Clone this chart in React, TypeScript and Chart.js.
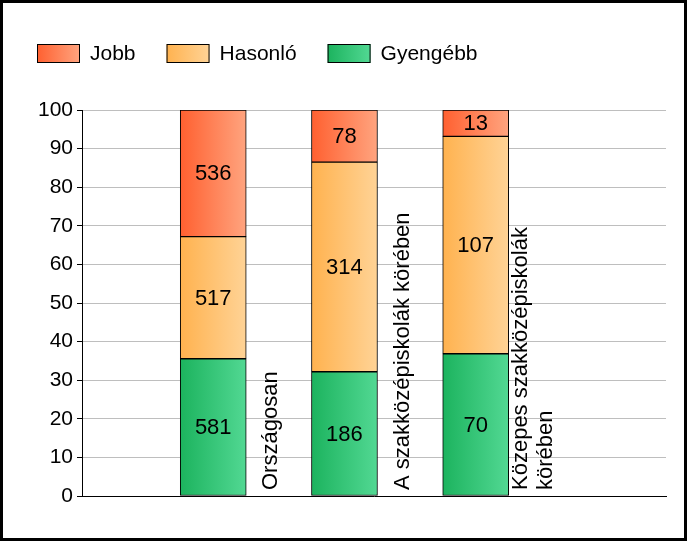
import React, { useEffect, useRef } from 'react';
import { Chart, registerables } from 'chart.js';

Chart.register(...registerables);

// ---- data ----
const categories: string[][] = [
  ['Országosan'],
  ['A szakközépiskolák körében'],
  ['Közepes szakközépiskolák', 'körében'],
];
const gyengebb = [581, 186, 70];
const hasonlo = [517, 314, 107];
const jobb = [536, 78, 13];
const seriesNames = ['Gyengébb', 'Hasonló', 'Jobb'];
const legendOrder = ['Jobb', 'Hasonló', 'Gyengébb'];
const yMin = 0;
const yMax = 100;
const yStep = 10;

// ---- styles ----
const FAMILY = 'Arial, "Liberation Sans", sans-serif';
const FONT_SIZE = 21;
const LABEL_SIZE = 22;
const gradients: Record<string, [string, string]> = {
  Jobb: ['#FF6030', '#FFA47F'],
  'Hasonló': ['#FFB24F', '#FFD396'],
  'Gyengébb': ['#1CB35E', '#52D893'],
};
const BAR_W = 66;

const counts = [gyengebb, hasonlo, jobb];
const totals = gyengebb.map((_, i) => gyengebb[i] + hasonlo[i] + jobb[i]);

function makeGrad(ctx: CanvasRenderingContext2D, x0: number, x1: number, name: string) {
  const g = ctx.createLinearGradient(x0, 0, x1, 0);
  g.addColorStop(0, gradients[name][0]);
  g.addColorStop(1, gradients[name][1]);
  return g;
}

const decor = {
  id: 'decor',
  beforeDraw(chart: any) {
    const ctx = chart.ctx;
    ctx.save();
    ctx.fillStyle = '#ffffff';
    ctx.fillRect(0, 0, chart.width, chart.height);
    ctx.restore();
  },
  afterDatasetsDraw(chart: any) {
    const ctx: CanvasRenderingContext2D = chart.ctx;
    ctx.save();
    ctx.font = `${LABEL_SIZE}px ${FAMILY}`;
    ctx.fillStyle = '#000';
    ctx.textAlign = 'center';
    ctx.textBaseline = 'middle';
    chart.data.datasets.forEach((ds: any, d: number) => {
      const meta = chart.getDatasetMeta(d);
      meta.data.forEach((el: any, i: number) => {
        const cy = (el.y + el.base) / 2;
        ctx.fillText(String(counts[d][i]), el.x, cy + 1);
      });
    });
    // category labels, rotated
    const xs = chart.scales.x;
    const bottom = chart.chartArea.bottom;
    const lineH = 25;
    categories.forEach((lines, i) => {
      const cx = xs.getPixelForValue(i + 1) + 58;
      ctx.save();
      ctx.translate(cx, bottom - 6);
      ctx.rotate(-Math.PI / 2);
      ctx.textAlign = 'left';
      ctx.textBaseline = 'middle';
      lines.forEach((ln, k) => {
        const off = (k - (lines.length - 1) / 2) * lineH;
        ctx.fillText(ln, 0, off);
      });
      ctx.restore();
    });
    ctx.restore();
  },
  afterDraw(chart: any) {
    const ctx: CanvasRenderingContext2D = chart.ctx;
    ctx.save();
    // legend
    ctx.font = `${FONT_SIZE}px ${FAMILY}`;
    ctx.textAlign = 'left';
    ctx.textBaseline = 'middle';
    let x = 37;
    const y = 44;
    const bw = 43;
    const bh = 19;
    legendOrder.forEach((name) => {
      ctx.fillStyle = makeGrad(ctx, x, x + bw, name);
      ctx.fillRect(x, y, bw, bh);
      ctx.strokeStyle = '#000';
      ctx.lineWidth = 1;
      ctx.strokeRect(x + 0.5, y + 0.5, bw - 1, bh - 1);
      ctx.fillStyle = '#000';
      const tx = x + bw + 10;
      ctx.fillText(name, tx, y + bh / 2 + 1);
      x = tx + ctx.measureText(name).width + 31;
    });
    // frame
    ctx.fillStyle = '#000';
    const W = chart.width;
    const H = chart.height;
    ctx.fillRect(0, 0, W, 3);
    ctx.fillRect(0, 0, 3, H);
    ctx.fillRect(W - 3, 0, 3, H);
    ctx.fillRect(0, H - 3, W, 3);
    ctx.restore();
  },
};

export default function App() {
  const ref = useRef<HTMLCanvasElement | null>(null);
  useEffect(() => {
    document.body.style.margin = '0';
    const canvas = ref.current;
    if (!canvas) return;
    const datasets = seriesNames.map((name, d) => ({
      label: name,
      data: counts[d].map((v, i) => ({ x: i + 1, y: (v / totals[i]) * 100 })),
      backgroundColor: (c: any) => {
        const chart = c.chart;
        const xs = chart.scales?.x;
        if (!chart.chartArea || !xs || c.dataIndex === undefined) return gradients[name][0];
        const cx = xs.getPixelForValue(c.dataIndex + 1);
        return makeGrad(chart.ctx, cx - BAR_W / 2, cx + BAR_W / 2, name);
      },
      borderColor: '#000',
      borderWidth: 1,
      borderSkipped: false,
      barThickness: BAR_W,
    }));
    const chart = new Chart(canvas, {
      type: 'bar',
      data: { datasets } as any,
      plugins: [decor],
      options: {
        animation: false,
        responsive: true,
        maintainAspectRatio: false,
        layout: { padding: { top: 110, right: 21, left: 0, bottom: 0 } },
        plugins: { legend: { display: false }, tooltip: { enabled: false } },
        scales: {
          x: {
            type: 'linear',
            min: 0,
            max: 4.45,
            offset: false,
            stacked: true,
            ticks: { display: false },
            grid: { display: false, drawTicks: false, offset: false },
            border: { display: true, color: '#000', width: 1 },
            afterFit: (s: any) => { s.height = 45; },
          },
          y: {
            type: 'linear',
            min: yMin,
            max: yMax,
            stacked: true,
            ticks: {
              stepSize: yStep,
              color: '#000',
              padding: 4,
              font: { family: FAMILY, size: FONT_SIZE },
            },
            grid: { color: '#BEBEBE', tickColor: '#000', tickLength: 5, lineWidth: 1 },
            border: { display: true, color: '#000', width: 1 },
            afterFit: (s: any) => { s.width = 82; },
          },
        },
      } as any,
    });
    return () => chart.destroy();
  }, []);
  return (
    <div style={{ width: 687, height: 541, position: 'relative' }}>
      <canvas ref={ref} />
    </div>
  );
}
